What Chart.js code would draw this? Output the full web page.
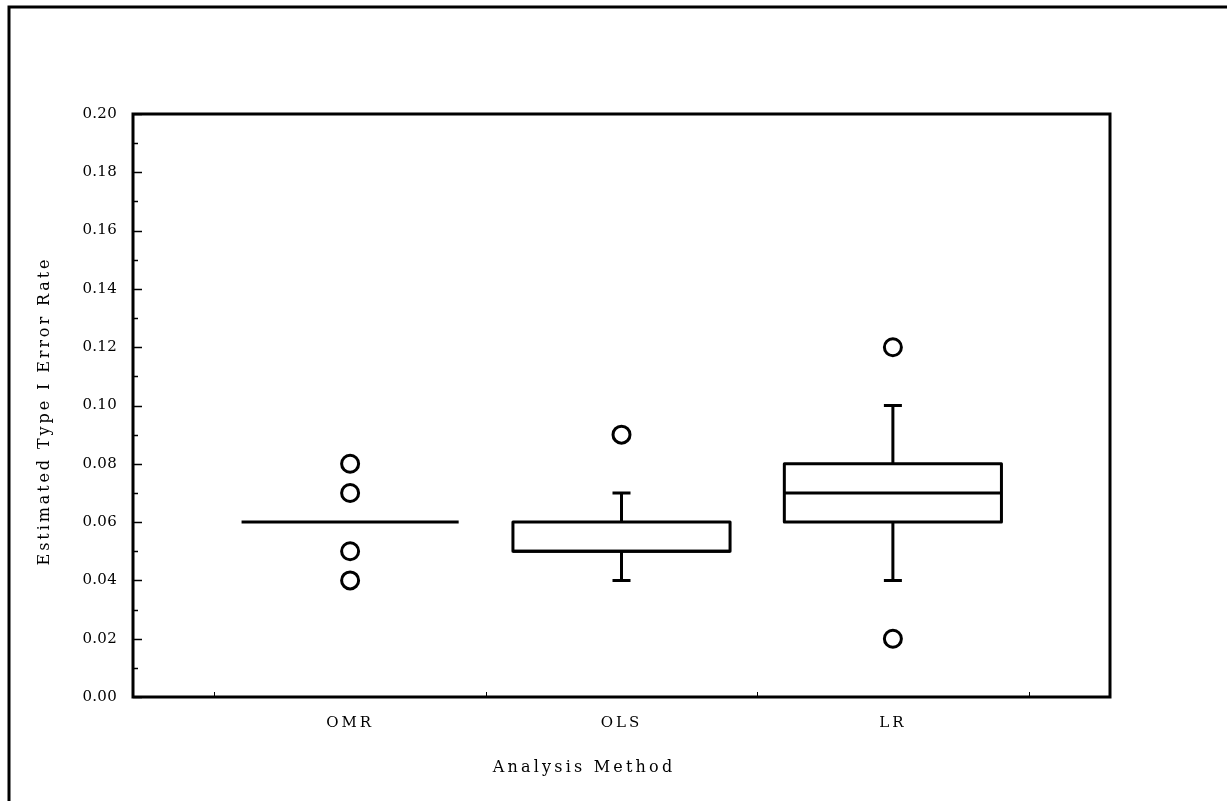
<!DOCTYPE html>
<html>
<head>
<meta charset="utf-8">
<title>Estimated Type I Error Rate by Analysis Method</title>
<script src="https://cdn.jsdelivr.net/npm/chart.js@4/dist/chart.umd.min.js"></script>
<style>
  html, body { margin: 0; padding: 0; background: #fff; }
  #wrap { width: 1227px; height: 801px; }
</style>
</head>
<body>
<div id="wrap"><canvas id="c" width="1227" height="801"></canvas></div>
<script>
// Analysis methods on the horizontal axis
const categories = ['OMR', 'OLS', 'LR'];

// Box-plot summaries, one entry per method
const whiskerLow  = [0.06, 0.04, 0.04];
const q1          = [0.06, 0.05, 0.06];
const median      = [0.06, 0.05, 0.07];
const q3          = [0.06, 0.06, 0.08];
const whiskerHigh = [0.06, 0.07, 0.10];

// Outlying values per method
const outliersOMR = [0.08, 0.07, 0.05, 0.04];
const outliersOLS = [0.09];
const outliersLR  = [0.12, 0.02];
const outliers = [outliersOMR, outliersOLS, outliersLR];

// Value axis
const yMin = 0, yMax = 0.20, yMajor = 0.02, yMinor = 0.01;

const FONT = 'DejaVu Serif';
const INK = '#000';

const outlierPoints = [];
outliers.forEach((vals, i) => vals.forEach(v => outlierPoints.push({ x: i, y: v })));

// tracking (letter spacing) used for each axis' tick labels
const tickSpacing = { x: '3px', y: '0.3px' };

const boxPlotPlugin = {
  id: 'boxPlot',
  beforeDraw(chart) {
    const ctx = chart.ctx;
    // give each scale its own letter spacing for tick labels
    Object.keys(tickSpacing).forEach(id => {
      const s = chart.scales[id];
      if (s && !s._spaced) {
        const orig = s.drawLabels.bind(s);
        s.drawLabels = function (area) {
          const prev = ctx.letterSpacing;
          ctx.letterSpacing = tickSpacing[id];
          orig(area);
          ctx.letterSpacing = prev;
        };
        s._spaced = true;
      }
    });
    ctx.save();
    ctx.fillStyle = '#fff';
    ctx.fillRect(0, 0, chart.width, chart.height);
    // outer frame
    ctx.strokeStyle = INK;
    ctx.lineWidth = 3;
    ctx.beginPath();
    ctx.moveTo(9, chart.height + 5);
    ctx.lineTo(9, 7);
    ctx.lineTo(chart.width + 5, 7);
    ctx.stroke();
    ctx.restore();
  },
  beforeDatasetsDraw(chart) {
    const ctx = chart.ctx;
    const xs = chart.scales.x, ys = chart.scales.y;
    const a = chart.chartArea;
    ctx.save();
    ctx.strokeStyle = INK;
    ctx.lineCap = 'butt';

    // minor / major ticks pointing inward
    ctx.lineWidth = 1.5;
    for (let k = 0; k <= Math.round((yMax - yMin) / yMinor); k++) {
      const v = yMin + k * yMinor;
      const py = Math.round(ys.getPixelForValue(v)) + 0.5;
      const len = (k % 2 === 0) ? 9 : 5;
      ctx.beginPath();
      ctx.moveTo(a.left, py);
      ctx.lineTo(a.left + len, py);
      ctx.stroke();
    }
    ctx.lineWidth = 1;
    for (let k = 0; k <= categories.length; k++) {
      const px = Math.round(xs.getPixelForValue(k - 0.5)) + 0.5;
      ctx.beginPath();
      ctx.moveTo(px, a.bottom);
      ctx.lineTo(px, a.bottom - 5);
      ctx.stroke();
    }

    // boxes and whiskers
    ctx.lineWidth = 3;
    ctx.lineJoin = 'round';
    const capHalf = 9;
    categories.forEach((c, i) => {
      const cx = xs.getPixelForValue(i);
      const half = xs.getPixelForValue(i + 0.4) - cx;
      const yLo = ys.getPixelForValue(whiskerLow[i]);
      const yQ1 = ys.getPixelForValue(q1[i]);
      const yMd = ys.getPixelForValue(median[i]);
      const yQ3 = ys.getPixelForValue(q3[i]);
      const yHi = ys.getPixelForValue(whiskerHigh[i]);

      ctx.beginPath();
      if (whiskerHigh[i] > q3[i]) {
        ctx.moveTo(cx, yQ3); ctx.lineTo(cx, yHi);
        ctx.moveTo(cx - capHalf, yHi); ctx.lineTo(cx + capHalf, yHi);
      }
      if (whiskerLow[i] < q1[i]) {
        ctx.moveTo(cx, yQ1); ctx.lineTo(cx, yLo);
        ctx.moveTo(cx - capHalf, yLo); ctx.lineTo(cx + capHalf, yLo);
      }
      ctx.stroke();

      if (q3[i] > q1[i]) {
        ctx.fillStyle = '#fff';
        ctx.fillRect(cx - half, yQ3, 2 * half, yQ1 - yQ3);
        ctx.strokeRect(cx - half, yQ3, 2 * half, yQ1 - yQ3);
      }
      ctx.beginPath();
      ctx.moveTo(cx - half, yMd);
      ctx.lineTo(cx + half, yMd);
      ctx.stroke();
    });
    ctx.restore();
  },
  afterDraw(chart) {
    const ctx = chart.ctx;
    const a = chart.chartArea;
    ctx.save();
    // plot frame
    ctx.strokeStyle = INK;
    ctx.lineWidth = 3;
    ctx.lineJoin = 'miter';
    ctx.strokeRect(a.left, a.top, a.right - a.left, a.bottom - a.top);

    // axis titles
    ctx.fillStyle = INK;
    ctx.textAlign = 'center';
    ctx.textBaseline = 'middle';
    ctx.font = '16px "' + FONT + '"';
    ctx.letterSpacing = '3.2px';
    ctx.fillText('Analysis Method', 584, 768);

    ctx.translate(45, 411);
    ctx.rotate(-Math.PI / 2);
    ctx.font = '16px "' + FONT + '"';
    ctx.letterSpacing = '2.9px';
    ctx.fillText('Estimated Type I Error Rate', 0, 0);
    ctx.restore();
  }
};

new Chart(document.getElementById('c'), {
  type: 'scatter',
  data: {
    datasets: [{
      label: 'Outliers',
      data: outlierPoints,
      pointStyle: 'circle',
      pointRadius: 8.5,
      pointHoverRadius: 8.5,
      borderWidth: 3,
      borderColor: INK,
      backgroundColor: '#fff'
    }]
  },
  options: {
    responsive: false,
    devicePixelRatio: 1,
    animation: false,
    events: [],
    layout: { padding: { top: 114, right: 117, left: 0, bottom: 0 } },
    plugins: {
      legend: { display: false },
      tooltip: { enabled: false },
      title: { display: false }
    },
    scales: {
      x: {
        type: 'linear',
        min: -0.8,
        max: 2.8,
        grid: { display: false, drawTicks: false },
        border: { display: false },
        afterBuildTicks(scale) {
          scale.ticks = categories.map((c, i) => ({ value: i }));
        },
        afterFit(scale) { scale.height = 104; },
        ticks: {
          color: INK,
          padding: 17,
          maxRotation: 0,
          autoSkip: false,
          font: { family: FONT, size: 15 },
          callback: (v) => categories[v] !== undefined ? categories[v] : ''
        }
      },
      y: {
        min: yMin,
        max: yMax,
        grid: { display: false, drawTicks: false },
        border: { display: false },
        afterFit(scale) { scale.width = 133; },
        afterBuildTicks(scale) {
          const t = [];
          for (let k = 0; k <= Math.round((yMax - yMin) / yMajor); k++) t.push({ value: +(yMin + k * yMajor).toFixed(2) });
          scale.ticks = t;
        },
        ticks: {
          color: INK,
          padding: 16,
          font: { family: FONT, size: 15 },
          callback: (v) => v.toFixed(2)
        }
      }
    }
  },
  plugins: [boxPlotPlugin]
});
</script>
</body>
</html>
